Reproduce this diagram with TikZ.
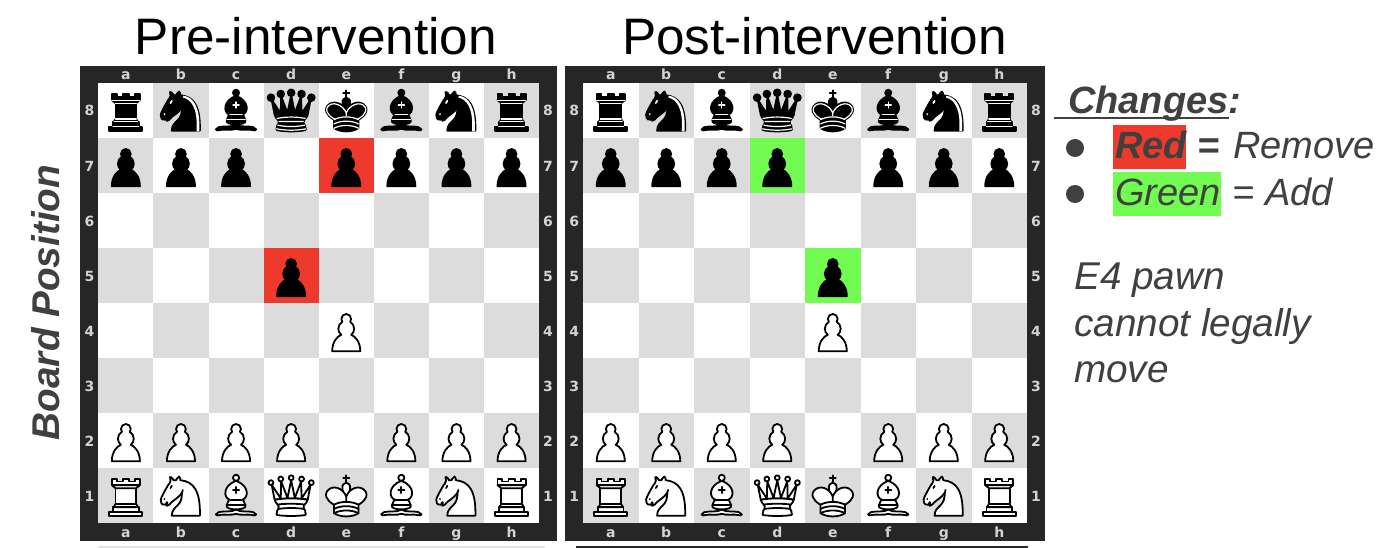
\documentclass[tikz,border=0pt]{standalone}
\usepackage{fontspec}
\usetikzlibrary{svg.path}
\setmainfont{Liberation Sans}
\newfontfamily\labelfont{DejaVu Sans}
\definecolor{framegrey}{HTML}{262626}
\definecolor{darksq}{HTML}{DCDCDC}
\definecolor{labelgrey}{HTML}{D4D4D4}
\definecolor{textgrey}{HTML}{404040}
\definecolor{removered}{HTML}{EE3A2C}
\definecolor{addgreen}{HTML}{72FB50}
% piece outlines, both colours
\newcommand{\pawnshape}[1]{\draw[#1] svg {M 22.5,9 c -2.21,0 -4,1.79 -4,4 0,0.89 0.29,1.71 0.78,2.38 C 17.33,16.5 16,18.59 16,21 c 0,2.03 0.94,3.84 2.41,5.03 C 15.41,27.09 11,31.58 11,39.5 H 34 C 34,31.58 29.59,27.09 26.59,26.03 28.06,24.84 29,23.03 29,21 29,18.59 27.67,16.5 25.72,15.38 26.21,14.71 26.5,13.89 26.5,13 c 0,-2.21 -1.79,-4 -4,-4 z};}
\newcommand{\rookshape}[1]{
  \draw[#1] svg {M 9,39 L 36,39 L 36,36 L 9,36 L 9,39 z};
  \draw[#1] svg {M 12,36 L 12,32 L 33,32 L 33,36 L 12,36 z};
  \draw[#1] svg {M 12.5,32 L 14,29.5 L 31,29.5 L 32.5,32 L 12.5,32 z};
  \draw[#1] svg {M 14,29.5 L 14,16.5 L 31,16.5 L 31,29.5 L 14,29.5 z};
  \draw[#1] svg {M 14,16.5 L 11,14 L 34,14 L 31,16.5 L 14,16.5 z};
  \draw[#1] svg {M 11,14 L 11,9 L 15,9 L 15,11 L 20,11 L 20,9 L 25,9 L 25,11 L 30,11 L 30,9 L 34,9 L 34,14 L 11,14 z};
}
\newcommand{\knightshape}[1]{
  \draw[#1] svg {M 22,10 C 32.5,11 38.5,18 38,39 L 15,39 C 15,30 25,32.5 23,18};
  \draw[#1] svg {M 24,18 C 24.38,20.91 18.45,25.37 16,27 C 13,29 13.18,31.34 11,31 C 9.958,30.06 12.41,27.96 11,28 C 10,28 11.19,29.23 10,30 C 9,30 5.997,31 6,26 C 6,24 12,14 12,14 C 12,14 13.89,12.1 14,10.5 C 13.27,9.506 13.5,8.5 13.5,7.5 C 14.5,6.5 16.5,10 16.5,10 L 18.5,10 C 18.5,10 19.28,8.008 21,7 C 22,7 22,10 22,10};
}
\newcommand{\bishopshape}[1]{
  \draw[#1] svg {M 9,36 C 12.39,35.03 19.11,36.43 22.5,34 C 25.89,36.43 32.61,35.03 36,36 C 36,36 37.65,36.54 39,38 C 38.32,38.97 37.35,38.99 36,38.5 C 32.61,37.53 25.89,38.96 22.5,37.5 C 19.11,38.96 12.39,37.53 9,38.5 C 7.65,38.99 6.68,38.97 6,38 C 7.35,36.06 9,36 9,36 z};
  \draw[#1] svg {M 15,32 C 17.5,34.5 27.5,34.5 30,32 C 30.5,30.5 30,30 30,30 C 30,27.5 27.5,26 27.5,26 C 33,24.5 33.5,14.5 22.5,10.5 C 11.5,14.5 12,24.5 17.5,26 C 17.5,26 15,27.5 15,30 C 15,30 14.5,30.5 15,32 z};
  \draw[#1] (22.5,8) circle[radius=2.5];
}
\newcommand{\bishopcross}[1]{\draw[#1] svg {M 17.5,26 L 27.5,26 M 15,30 L 30,30 M 22.5,15.5 L 22.5,20.5 M 20,18 L 25,18};}
\newcommand{\queenshape}[2]{
  \foreach \cx/\cy in {6/12,14/9,22.5/8,31/9,39/12}{\draw[#1] (\cx,\cy) circle[radius=#2];}
  \draw[#1] svg {M 9,26 C 17.5,24.5 30,24.5 36,26 L 38.5,13.5 L 31,25 L 30.7,10.9 L 25.5,24.5 L 22.5,10 L 19.5,24.5 L 14.3,10.9 L 14,25 L 6.5,13.5 L 9,26 z};
  \draw[#1] svg {M 9,26 C 9,28 10.5,28 11.5,30 C 12.5,31.5 12.5,31 12,33.5 C 10.5,34.5 11,36 11,36 C 9.5,37.5 11,38.5 11,38.5 C 17.5,39.5 27.5,39.5 34,38.5 C 34,38.5 35.5,37.5 34,36 C 34,36 34.5,34.5 33,33.5 C 32.5,31 32.5,31.5 33.5,30 C 34.5,28 36,28 36,26 C 27.5,24.5 17.5,24.5 9,26 z};
}
\newcommand{\kingshape}[1]{
  \draw[#1] svg {M 22.5,11.63 L 22.5,6 M 20,8 L 25,8};
  \draw[#1] svg {M 22.5,25 C 22.5,25 27,17.5 25.5,14.5 C 25.5,14.5 24.5,12 22.5,12 C 20.5,12 19.5,14.5 19.5,14.5 C 18,17.5 22.5,25 22.5,25};
  \draw[#1] svg {M 12.5,37 C 18,40.5 27,40.5 32.5,37 L 32.5,30 C 32.5,30 41.5,25.5 38.5,19.5 C 34.5,13 25,16 22.5,23.5 L 22.5,27 L 22.5,23.5 C 20,16 10.5,13 6.5,19.5 C 3.5,25.5 12.5,30 12.5,30 L 12.5,37};
}
\tikzset{
  piecebox/.style={x=1pt,y=1pt,scale=1.2222,yscale=-1,shift={(-22.5pt,-22.5pt)},line width=1.8pt,line cap=round,line join=round},
  blackbody/.style={draw=black,fill=black},
  whitebody/.style={draw=black,fill=white},
  thinwhite/.style={draw=white,line width=1.2pt},
  pics/blackpawn/.style={code={\begin{scope}[piecebox]\pawnshape{blackbody}\end{scope}}},
  pics/whitepawn/.style={code={\begin{scope}[piecebox]\pawnshape{whitebody}\end{scope}}},
  pics/blackrook/.style={code={\begin{scope}[piecebox]\rookshape{blackbody}
    \draw[thinwhite] svg {M 12,35.5 L 33,35.5 M 13,31.5 L 32,31.5 M 14,29.5 L 31,29.5 M 14,16.5 L 31,16.5 M 11,14 L 34,14};
    \end{scope}}},
  pics/whiterook/.style={code={\begin{scope}[piecebox]\rookshape{whitebody}\end{scope}}},
  pics/blackknight/.style={code={\begin{scope}[piecebox]\knightshape{blackbody}
    \fill[white] svg {M 24.55,10.4 L 24.1,11.85 L 24.6,12 C 27.75,13 30.25,14.49 32.5,18.75 C 34.75,23.01 35.75,29.06 35.25,39 L 35.2,39.5 L 37.45,39.5 L 37.5,39 C 38,28.94 36.62,22.15 34.25,17.66 C 31.88,13.17 28.46,11.02 25.06,10.5 L 24.55,10.4 z};
    \fill[white](9,25.5)circle[radius=0.8];\fill[white](14.5,15.5)circle[x radius=0.8,y radius=1.8,rotate=30];
    \end{scope}}},
  pics/whiteknight/.style={code={\begin{scope}[piecebox]\knightshape{whitebody}
    \fill(9,25.5)circle[radius=0.8];\fill(14.5,15.5)circle[x radius=0.8,y radius=1.8,rotate=30];
    \end{scope}}},
  pics/blackbishop/.style={code={\begin{scope}[piecebox]\bishopshape{blackbody}\bishopcross{thinwhite}\end{scope}}},
  pics/whitebishop/.style={code={\begin{scope}[piecebox]\bishopshape{whitebody}\bishopcross{draw=black}\end{scope}}},
  pics/blackqueen/.style={code={\begin{scope}[piecebox]\queenshape{blackbody}{2.75}
    \draw svg {M 11,38.5 C 18,40 27,40 34,38.5};
    \draw[thinwhite] svg {M 11,29 C 18,27.5 27,27.5 34,29 M 12.5,31.5 L 32.5,31.5 M 11.5,34.5 C 18,36 27,36 33.5,34.5 M 10.5,37.5 C 18,39 27,39 34.5,37.5};
    \end{scope}}},
  pics/whitequeen/.style={code={\begin{scope}[piecebox]\queenshape{whitebody}{2}
    \draw svg {M 11.5,30 C 15,29 30,29 33.5,30 M 12,33.5 C 18,32.5 27,32.5 33,33.5};
    \end{scope}}},
  pics/blackking/.style={code={\begin{scope}[piecebox]\kingshape{blackbody}
    \draw[thinwhite] svg {M 32,29.5 C 32,29.5 40.5,25.5 38.03,19.85 C 34.15,14 25,18 22.5,24.5 L 22.5,26.6 L 22.5,24.5 C 20,18 10.85,14 6.97,19.85 C 4.5,25.5 13,29.5 13,29.5};
    \draw[thinwhite] svg {M 12.5,30 C 18,27 27,27 32.5,30 M 12.5,33.5 C 18,30.5 27,30.5 32.5,33.5 M 12.5,37 C 18,34 27,34 32.5,37};
    \end{scope}}},
  pics/whiteking/.style={code={\begin{scope}[piecebox]\kingshape{whitebody}
    \draw svg {M 12.5,30 C 18,27 27,27 32.5,30 M 12.5,33.5 C 18,30.5 27,30.5 32.5,33.5 M 12.5,37 C 18,34 27,34 32.5,37};
    \end{scope}}},
  coordlabel/.style={inner sep=0pt,anchor=base,text=labelgrey,font=\labelfont\bfseries\fontsize{14}{14}\selectfont},
  title/.style={inner sep=0pt,anchor=base,font=\fontsize{51.3}{51.3}\selectfont},
  legend/.style={inner sep=0pt,anchor=base west,text=textgrey,font=\itshape\fontsize{38}{38}\selectfont},
  legendbold/.style={legend,font=\bfseries\itshape\fontsize{38}{38}\selectfont},
  note/.style={legend,font=\itshape\fontsize{38.7}{38.7}\selectfont},
}
% #1 name, #2 inner left, #3 square width, #4 mark colour, #5 marked squares, #6 black pawns
\newcommand{\chessboard}[6]{
  \begin{scope}[name prefix=#1-,shift={(#2pt,-83pt)},x=#3pt,y=-55pt]
  %frame
  \fill[framegrey](-0.33,-0.31)rectangle(8.33,8.33);
  \fill[white](0,0)rectangle(8,8);
  %squares
  \foreach \row in {0,...,7}{
    \foreach \col in {0,...,7}{
      \pgfmathtruncatemacro{\odd}{mod(\row+\col,2)}
      \ifnum\odd=1 \fill[darksq](\col,\row)rectangle++(1,1);\fi
    }
  }
  \foreach \col/\row in {#5}{\fill[#4](\col,\row)rectangle++(1,1);}
  %labels
  \foreach \col/\file in {0/a,1/b,2/c,3/d,4/e,5/f,6/g,7/h}{
    \node[coordlabel](top\file) at (\col+0.5,-0.06){\file};
    \node[coordlabel](bot\file) at (\col+0.5,8.27){\file};
  }
  \foreach \row/\rank in {0/8,1/7,2/6,3/5,4/4,5/3,6/2,7/1}{
    \node[coordlabel](left\rank) at (-0.16,\row+0.6){\rank};
    \node[coordlabel](right\rank) at (8.16,\row+0.6){\rank};
  }
  %pieces
  \foreach \col/\kind in {0/rook,1/knight,2/bishop,3/queen,4/king,5/bishop,6/knight,7/rook}{
    \pic at (\col+0.5,0.5) {black\kind};
    \pic at (\col+0.5,7.5) {white\kind};
  }
  \foreach \col in {0,1,2,3,5,6,7}{\pic at (\col+0.5,6.5) {whitepawn};}
  \foreach \col/\row in {#6}{\pic at (\col+0.5,\row+0.5) {blackpawn};}
  \pic at (4.5,4.5) {whitepawn};
  \end{scope}
}
\begin{document}
\begin{tikzpicture}[x=1pt,y=-1pt]
\useasboundingbox(0,0)rectangle(1386,548);
\fill[white](0,0)rectangle(1386,548);
%boards
\chessboard{pre}{98.3}{55.1}{removered}{4/1,3/3}{0/1,1/1,2/1,4/1,5/1,6/1,7/1,3/3}
\chessboard{post}{583}{55.5}{addgreen}{3/1,4/3}{0/1,1/1,2/1,3/1,5/1,6/1,7/1,4/3}
%rules below the boards
\draw[line width=1.5pt,black!10](98,547)--(545,547);
\draw[line width=1.5pt,framegrey](576,547)--(1028,547);
%titles
\node[title](pretitle) at (316,55){Pre-intervention};
\node[title](posttitle) at (814.5,55){Post-intervention};
\node[inner sep=0pt,rotate=90,text=textgrey,font=\bfseries\itshape\fontsize{38.7}{38.7}\selectfont,anchor=base](boardpos) at (59,302.5){Board Position};
%legend
\node[legendbold](changes) at (1068,114){Changes:};
\draw[line width=2.5pt,textgrey](1054,118)--(1229,118);
\fill[removered](1113,125)rectangle(1186,169);
\fill[addgreen](1113,172)rectangle(1221,216);
\node[circle,fill=textgrey,inner sep=0pt,minimum size=18pt](bulleta) at (1075,148){};
\node[circle,fill=textgrey,inner sep=0pt,minimum size=18pt](bulletb) at (1075,194){};
\node[legendbold](red) at (1115,159){Red};
\node[legendbold](eqa) at (1197,159){=};
\node[legend](remove) at (1233,159){Remove};
\node[legend](green) at (1115,206){Green};
\node[legend](eqb) at (1232,206){=};
\node[legend](add) at (1265,206){Add};
%note
\node[note](notea) at (1074,289){E4 pawn};
\node[note](noteb) at (1074,336){cannot legally};
\node[note](notec) at (1074,382){move};
\end{tikzpicture}
\end{document}
